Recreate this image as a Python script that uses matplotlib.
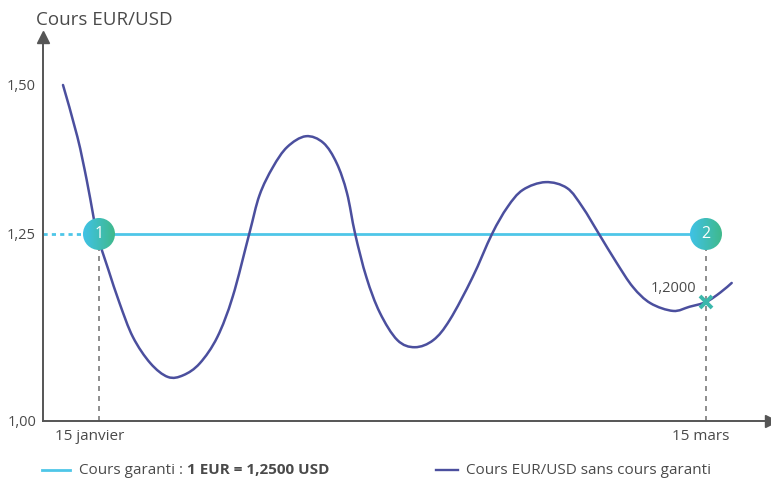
import numpy as np
import matplotlib
matplotlib.use("Agg")
import matplotlib.pyplot as plt
from matplotlib.patches import Circle, PathPatch
from matplotlib.path import Path
from matplotlib.transforms import ScaledTranslation

# ---------------- data ----------------
# x in days of the year (15 janvier = 15, 15 mars = 74)
days = [11.5, 12.9, 13.8, 14.4, 14.8, 15.9, 17.0, 18.3, 20.0, 21.7, 23.2, 24.8,
        26.5, 28.0, 29.6, 30.6, 31.9, 33.3, 35.1, 36.8, 38.1, 39.1, 39.9, 41.0,
        42.3, 44.0, 45.7, 47.5, 49.1, 51.3, 53.2, 54.7, 56.2, 58.4, 60.5, 62.0,
        63.6, 65.3, 66.9, 68.6, 70.8, 72.4, 74.0, 75.4, 76.5]
rate = [1.500, 1.413, 1.341, 1.285, 1.250, 1.224, 1.198, 1.141, 1.097, 1.074,
        1.077, 1.097, 1.141, 1.204, 1.250, 1.315, 1.362, 1.396, 1.414, 1.403,
        1.369, 1.319, 1.250, 1.218, 1.182, 1.136, 1.124, 1.136, 1.170, 1.218,
        1.250, 1.295, 1.324, 1.337, 1.327, 1.295, 1.250, 1.229, 1.211, 1.198,
        1.185, 1.192, 1.200, 1.207, 1.214]
guaranteed_rate = 1.25
start_day, end_day = 15, 74
spot_at_end = 1.20
y_ticks = [1.00, 1.25, 1.50]
y_tick_labels = ["1,00", "1,25", "1,50"]
x_tick_labels = ["15 janvier", "15 mars"]
point_labels = ["1", "2"]
end_label = "1,2000"
y_title = "Cours EUR/USD"
legend_1a = "Cours garanti : "
legend_1b = "1 EUR = 1,2500 USD"
legend_2 = "Cours EUR/USD sans cours garanti"

# ---------------- style ----------------
FONT = "Open Sans"
plt.rcParams["font.family"] = [FONT, "DejaVu Sans"]
TXT = "#4a4a4a"
AX = "#555555"
NAVY = "#4b4f9e"
CYAN = "#4ec6e8"
GREY = "#7a7a7a"
FS = 10.5
FSL = 11

# schematic (piecewise) vertical scale of the original illustration
_v = [0.5, 1.00, 1.20, 1.25, 1.50, 2.00]
_d = [-336, 0, 119, 187, 336, 634]
def fwd(v):
    return np.interp(np.asarray(v, float), _v, _d)
def inv(d):
    return np.interp(np.asarray(d, float), _d, _v)

W, H = 771, 479
fig = plt.figure(figsize=(W / 100, H / 100), dpi=100)
x0, x1, yb, yt = 43, 771, 421, 37
ax = fig.add_axes([x0 / W, (H - yb) / H, (x1 - x0) / W, (yb - yt) / H])
ax.set_yscale("function", functions=(fwd, inv))
ax.set_xlim(9.557, 80.32)
ax.set_ylim(1.00, 1.5805)

for s in ["top", "right"]:
    ax.spines[s].set_visible(False)
for s in ["left", "bottom"]:
    ax.spines[s].set_color(AX)
    ax.spines[s].set_linewidth(1.4)
ax.plot([0], [1], marker="^", color=AX, markersize=8, transform=ax.transAxes,
        clip_on=False, zorder=5)
ax.plot([1], [0], marker=">", color=AX, markersize=8, transform=ax.transAxes,
        clip_on=False, zorder=5)

ax.set_yticks(y_ticks)
ax.set_yticklabels(y_tick_labels)
ax.yaxis.set_minor_locator(matplotlib.ticker.NullLocator())
ax.tick_params(axis="y", length=0, labelsize=FS, labelcolor=TXT, pad=5)
ax.set_xticks([start_day, end_day])
ax.set_xticklabels([])
ax.tick_params(axis="x", length=0)
# x labels placed below the guides (slightly shifted as in the original)
for xd, lab, dx in zip((start_day, end_day), x_tick_labels, (-9, -5)):
    tr = ax.get_xaxis_transform() + ScaledTranslation(dx / 100, -8 / 100, fig.dpi_scale_trans)
    ax.text(xd, 0, lab, transform=tr, ha="center", va="top", fontsize=FSL, color=TXT)

# guaranteed rate line
ax.plot([start_day, end_day], [guaranteed_rate] * 2, color=CYAN, lw=2.0, zorder=2)
ax.plot([ax.get_xlim()[0], start_day], [guaranteed_rate] * 2, color=CYAN, lw=2.0,
        dashes=(1.5, 1.5), zorder=2)
# vertical dashed guides
for xd in (start_day, end_day):
    ax.plot([xd, xd], [1.00, guaranteed_rate], color=GREY, lw=1.2,
            dashes=(3, 3), zorder=1)

# spot curve: smooth Bezier path through the read points
xs = np.asarray(days, float)
ys = fwd(rate)
n = len(xs)
verts = [(xs[0], ys[0])]
codes = [Path.MOVETO]
for i in range(n - 1):
    p0 = np.array([xs[max(i - 1, 0)], ys[max(i - 1, 0)]])
    p1 = np.array([xs[i], ys[i]])
    p2 = np.array([xs[i + 1], ys[i + 1]])
    p3 = np.array([xs[min(i + 2, n - 1)], ys[min(i + 2, n - 1)]])
    c1 = p1 + (p2 - p0) / 6.0
    c2 = p2 - (p3 - p1) / 6.0
    verts += [tuple(c1), tuple(c2), tuple(p2)]
    codes += [Path.CURVE4] * 3
verts = np.array(verts)
verts[:, 1] = inv(verts[:, 1])
ax.add_patch(PathPatch(Path(verts, codes), facecolor="none", edgecolor=NAVY,
                       lw=1.8, zorder=3, capstyle="round"))

# cross at the end
ax.plot([end_day], [spot_at_end], marker="x", color="#3bb8ac", markersize=8,
        mew=2.8, zorder=6)
ax.annotate(end_label, (end_day, spot_at_end), xytext=(-7, 4),
            textcoords="offset points", ha="right", va="bottom",
            fontsize=FS, color=TXT)

# y title
fig.text(36 / W, 1 - 20 / H, y_title, ha="left", va="center", fontsize=13.5,
         color=TXT)

# numbered gradient circles
grad = np.linspace(0, 1, 64)[None, :]
cmap = matplotlib.colors.LinearSegmentedColormap.from_list("g", ["#3fc2e6", "#3fb98c"])
fig.canvas.draw()
R = 16
for xd, lab in zip((start_day, end_day), point_labels):
    px, py = ax.transData.transform((xd, guaranteed_rate))
    cax = fig.add_axes([(px - R) / W, (py - R) / H, 2 * R / W, 2 * R / H])
    cax.set_axis_off()
    im = cax.imshow(grad, cmap=cmap, extent=[0, 1, 0, 1], aspect="auto")
    circ = Circle((0.5, 0.5), 0.5, transform=cax.transAxes)
    im.set_clip_path(circ)
    cax.set_xlim(0, 1)
    cax.set_ylim(0, 1)
    cax.text(0.5, 0.5, lab, color="white", ha="center", va="center",
             fontsize=11.5, transform=cax.transAxes)

# legend
ly = 1 - 470 / H
fig.add_artist(matplotlib.lines.Line2D([42 / W, 70 / W], [ly, ly], color=CYAN, lw=2.0))
t1 = fig.text(79 / W, ly, legend_1a, ha="left", va="center", fontsize=FSL, color=TXT)
fig.canvas.draw()
bb = t1.get_window_extent()
fig.text(bb.x1 / W, ly, legend_1b, ha="left", va="center", fontsize=FSL,
         color=TXT, fontweight="bold")
fig.add_artist(matplotlib.lines.Line2D([436 / W, 458 / W], [ly, ly], color=NAVY, lw=1.7))
fig.text(466 / W, ly, legend_2, ha="left", va="center", fontsize=FSL, color=TXT)

fig.savefig("out.png", dpi=100)
